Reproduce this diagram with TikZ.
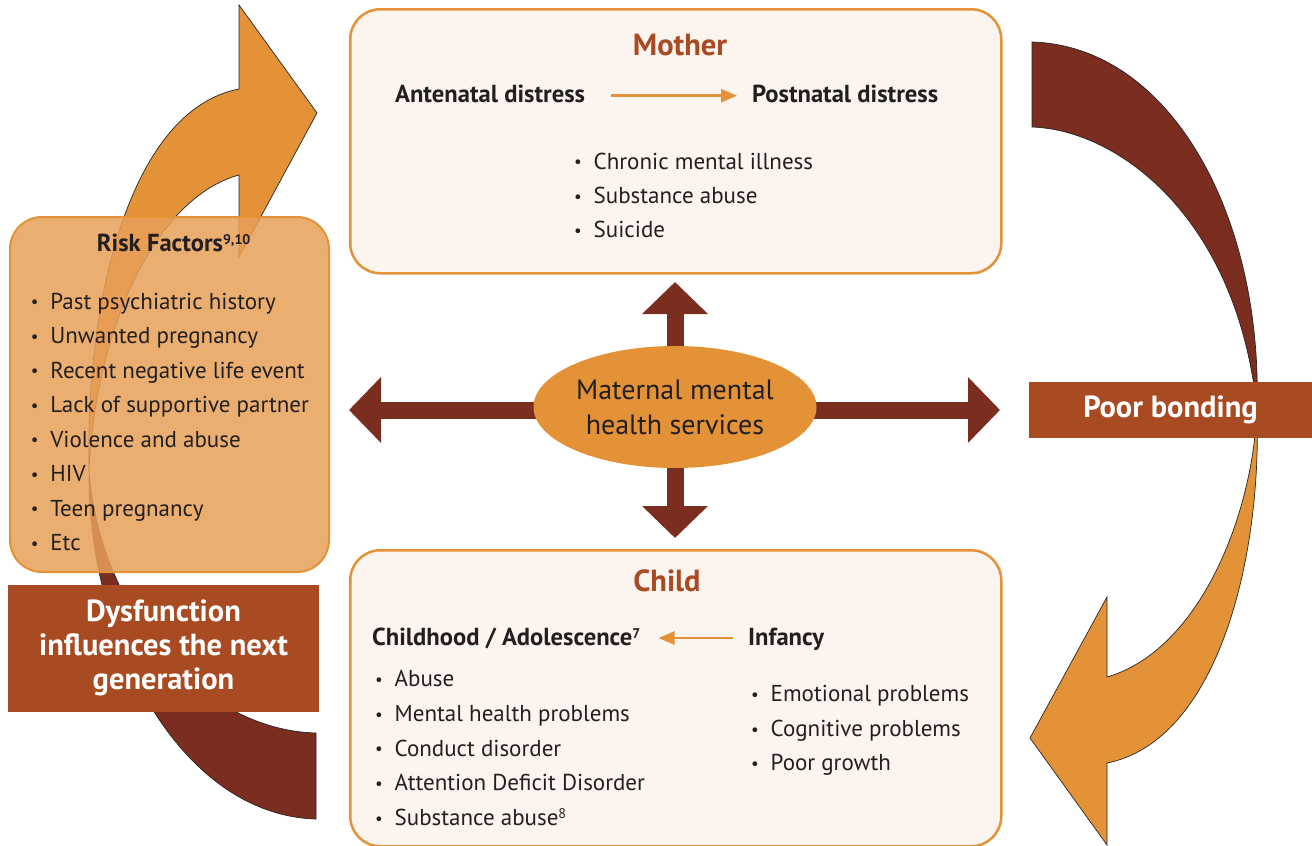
\documentclass[tikz,border=0pt]{standalone}
\usepackage{fontspec}
\setmainfont{PT Sans}
\usetikzlibrary{arrows.meta,shapes.geometric}
\definecolor{orng}{RGB}{227,146,55}
\definecolor{brwn}{RGB}{123,45,31}
\definecolor{rust}{RGB}{168,74,34}
\definecolor{cream}{RGB}{252,244,238}
\definecolor{ink}{RGB}{35,31,32}
\definecolor{riskfill}{RGB}{232,160,89}
\newcommand{\bul}{\makebox[19.5pt][l]{\raisebox{1.5pt}{\fontsize{17}{17}\selectfont\textbullet}}}
\newcommand{\sups}[1]{\raisebox{7pt}{\fontsize{14}{14}\selectfont #1}}
\begin{document}
\begin{tikzpicture}[x=1pt,y=-1pt,
  txt/.style={font=\fontsize{23}{28}\selectfont, text=ink, inner sep=0pt, anchor=base west},
  hd/.style={font=\fontsize{24.6}{28}\selectfont\bfseries, text=ink, inner sep=0pt, anchor=base west, text height=19pt, text depth=5pt},
  ttl/.style={font=\fontsize{30.5}{32}\selectfont\bfseries, text=rust, inner sep=0pt, anchor=base},
  panel/.style={draw=orng, line width=2.5pt, fill=cream, rounded corners=30pt, inner sep=0pt},
  tagbox/.style={fill=rust, text=white, font=\fontsize{30.5}{34}\selectfont\bfseries, align=center, inner sep=0pt},
  curved/.style={draw=black!85, line width=0.7pt, line join=miter},
  smallarrow/.style={draw=orng, line width=2.5pt, -{Triangle[length=16pt,width=13pt]}},
  bigarrow/.style={draw=brwn, line width=17pt, -{Triangle[length=32pt,width=64pt]}}
]
\useasboundingbox (0,0) rectangle (1312,846);
\fill[white] (0,0) rectangle (1312,846);

% ---- left curved arrow ----
\path[curved, fill=brwn] (89,472) .. controls (88,640) and (180,815) .. (316,819)
  -- (316,733) .. controls (200,730) and (100,610) .. (89,472) -- cycle;
\path[curved, fill=orng] (89,472) .. controls (85,300) and (130,110) .. (239,89)
  -- (239,5) -- (317,113) -- (239,257) -- (239,175)
  .. controls (155,198) and (95,330) .. (89,472) -- cycle;

% ---- right curved arrow ----
\path[curved, fill=brwn] (1032,42) .. controls (1170,46) and (1263,215) .. (1257,410)
  .. controls (1238,220) and (1120,130) .. (1032,127) -- cycle;
\path[curved, fill=orng] (1257,410) .. controls (1262,560) and (1217,741) .. (1107,763)
  -- (1107,845) -- (1030,738) -- (1107,597) -- (1107,677)
  .. controls (1197,651) and (1252,521) .. (1257,410) -- cycle;

% ---- side boxes ----
\node[draw=orng, line width=2pt, fill=riskfill, fill opacity=0.85, rounded corners=32pt,
  minimum width=319pt, minimum height=355pt, anchor=north west, inner sep=0pt] (riskbox) at (9,216) {};
\node[tagbox, minimum width=311pt, minimum height=127pt] (dysf) at (163.5,648)
  {Dysfunction\\influences the next\\generation};
\node[tagbox, minimum width=283pt, minimum height=56pt] (poor) at (1170.5,410) {\raisebox{-2pt}{Poor bonding}};

% ---- mother / child panels ----
\node[panel, minimum width=651pt, minimum height=264pt, anchor=north west] (motherbox) at (349,8) {};
\node[panel, minimum width=651pt, minimum height=296pt, anchor=north west] (childbox) at (349,549) {};

% ---- central cross ----
\coordinate (hub) at (675,410);
\coordinate (upTip) at (675,282);
\coordinate (downTip) at (675,538);
\coordinate (leftTip) at (349,410);
\coordinate (rightTip) at (1000,410);
\draw[bigarrow] (hub) -- (upTip);
\draw[bigarrow] (hub) -- (downTip);
\draw[bigarrow] (hub) -- (leftTip);
\draw[bigarrow] (hub) -- (rightTip);
\node[ellipse, fill=orng, minimum width=283pt, minimum height=122pt, inner sep=0pt,
  align=center, text=ink, font=\fontsize{28}{35}\selectfont] (mhs) at (675,407)
  {Maternal mental\\health services};

% ---- mother content ----
\node[ttl] (mtitle) at (680,55) {Mother};
\node[hd] (ante) at (395,102.7) {Antenatal distress};
\node[hd] (post) at (752,102.7) {Postnatal distress};
\draw[smallarrow] ([xshift=26pt]ante.east) -- ([xshift=-15pt]post.west);
\node[txt] (m1) at (574,169.3) {\bul Chronic mental illness};
\node[txt] (m2) at (574,203.5) {\bul Substance abuse};
\node[txt] (m3) at (574,237.7) {\bul Suicide};

% ---- child content ----
\node[ttl] (ctitle) at (667,591.7) {Child};
\node[hd] (chad) at (372,645) {Childhood / Adolescence\sups{7}};
\node[hd] (inf) at (748,645) {Infancy};
\draw[smallarrow] ([xshift=-15pt]inf.west) -- ([xshift=18pt]chad.east);
\node[txt] (c1) at (375,686.7) {\bul Abuse};
\node[txt] (c2) at (375,721.5) {\bul Mental health problems};
\node[txt] (c3) at (375,756) {\bul Conduct disorder};
\node[txt] (c4) at (375,790.7) {\bul Attention Deficit Disorder};
\node[txt] (c5) at (375,825.5) {\bul Substance abuse\sups{8}};
\node[txt] (i1) at (751,701.7) {\bul Emotional problems};
\node[txt] (i2) at (751,736.5) {\bul Cognitive problems};
\node[txt] (i3) at (751,770.7) {\bul Poor growth};

% ---- risk factors ----
\node[hd] (rtitle) at (96.7,251) {Risk Factors\sups{9,10}};
\node[txt] (r1) at (30.7,309) {\bul Past psychiatric history};
\node[txt] (r2) at (30.7,343.5) {\bul Unwanted pregnancy};
\node[txt] (r3) at (30.7,378) {\bul Recent negative life event};
\node[txt] (r4) at (30.7,412.5) {\bul Lack of supportive partner};
\node[txt] (r5) at (30.7,447) {\bul Violence and abuse};
\node[txt] (r6) at (30.7,481.5) {\bul HIV};
\node[txt] (r7) at (30.7,516) {\bul Teen pregnancy};
\node[txt] (r8) at (30.7,550.5) {\bul Etc};
\end{tikzpicture}
\end{document}
